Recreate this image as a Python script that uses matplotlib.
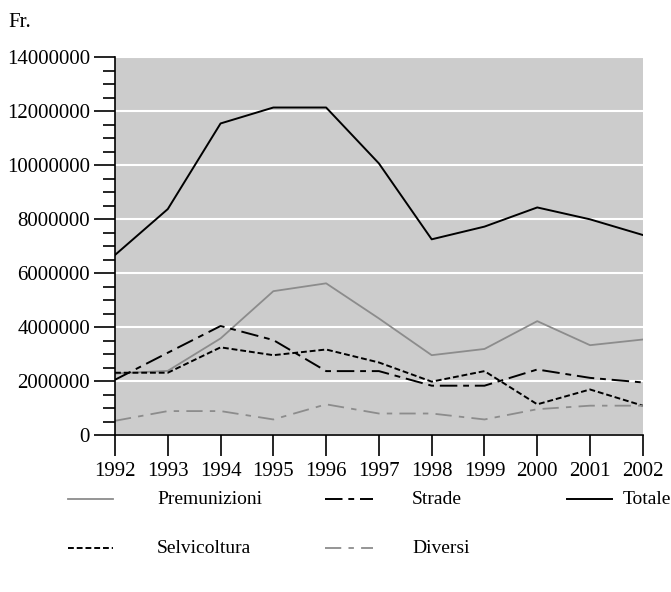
import numpy as np
import matplotlib.pyplot as plt
from matplotlib.lines import Line2D
from matplotlib.ticker import MultipleLocator

# yearly amounts in francs
years = [1992, 1993, 1994, 1995, 1996, 1997, 1998, 1999, 2000, 2001, 2002]
totale = [6670000, 8370000, 11540000, 12130000, 12130000, 10060000, 7250000, 7720000, 8430000, 7990000, 7410000]
premunizioni = [2280000, 2380000, 3580000, 5330000, 5620000, 4320000, 2960000, 3190000, 4220000, 3330000, 3540000]
strade = [2050000, 3050000, 4040000, 3520000, 2370000, 2370000, 1830000, 1830000, 2430000, 2120000, 1950000]
selvicoltura = [2310000, 2310000, 3250000, 2960000, 3170000, 2690000, 1980000, 2370000, 1140000, 1690000, 1090000]
diversi = [530000, 890000, 890000, 580000, 1140000, 800000, 800000, 580000, 960000, 1090000, 1090000]

plt.rcParams['font.family'] = ['Liberation Serif', 'DejaVu Serif']
FS = 15

fig = plt.figure(figsize=(6.71, 5.92), dpi=100)
ax = fig.add_axes([0.1714, 0.265, 0.7866, 0.6387])
ax.set_facecolor('#cccccc')

# line styles: (color, width, dash pattern or None)
styles = {
    'Premunizioni': ('#8c8c8c', 1.3, None),
    'Strade': ('black', 1.4, (9, 3, 3, 3)),
    'Totale': ('black', 1.4, None),
    'Selvicoltura': ('black', 1.4, (3, 1.5)),
    'Diversi': ('#8c8c8c', 1.3, (9, 4, 3, 4)),
}
series = {
    'Premunizioni': premunizioni,
    'Strade': strade,
    'Totale': totale,
    'Selvicoltura': selvicoltura,
    'Diversi': diversi,
}

for name, vals in series.items():
    c, w, d = styles[name]
    line, = ax.plot(years, vals, color=c, lw=w)
    if d:
        line.set_dashes(d)

ax.set_xlim(1992, 2002)
ax.set_ylim(0, 14000000)
ax.set_xticks(years)
ax.yaxis.set_major_locator(MultipleLocator(2000000))
ax.yaxis.set_minor_locator(MultipleLocator(500000))
ax.yaxis.grid(True, which='major', color='white', lw=1.5)
ax.set_axisbelow(True)

for s in ['top', 'right']:
    ax.spines[s].set_visible(False)
for s in ['left', 'bottom']:
    ax.spines[s].set_linestyle((0, (2, 1)))
    ax.spines[s].set_linewidth(1.2)

ax.tick_params(axis='y', which='major', direction='out', length=15, width=1.2, pad=3, labelsize=FS)
ax.tick_params(axis='y', which='minor', direction='out', length=9, width=1.2)
ax.tick_params(axis='x', which='major', direction='out', length=15, width=1.2, pad=4, labelsize=FS)
ax.ticklabel_format(axis='y', style='plain')

fig.text(0.012, 0.962, 'Fr.', fontsize=FS, va='center')

# legend drawn by hand in figure coordinates
rows = [0.157, 0.074]
cols = [(0.101, 0.168, 0.234), (0.484, 0.556, 0.614), (0.845, 0.912, 0.928)]
order = [('Premunizioni', 0, 0), ('Strade', 0, 1), ('Totale', 0, 2),
         ('Selvicoltura', 1, 0), ('Diversi', 1, 1)]
for name, r, k in order:
    c, w, d = styles[name]
    x0, x1, xt = cols[k]
    h = Line2D([x0, x1], [rows[r], rows[r]], color=c, lw=w, transform=fig.transFigure)
    if d:
        h.set_dashes(d)
    fig.add_artist(h)
    fig.text(xt, rows[r], name, fontsize=14, va='center')

fig.savefig('out.png', dpi=100)
